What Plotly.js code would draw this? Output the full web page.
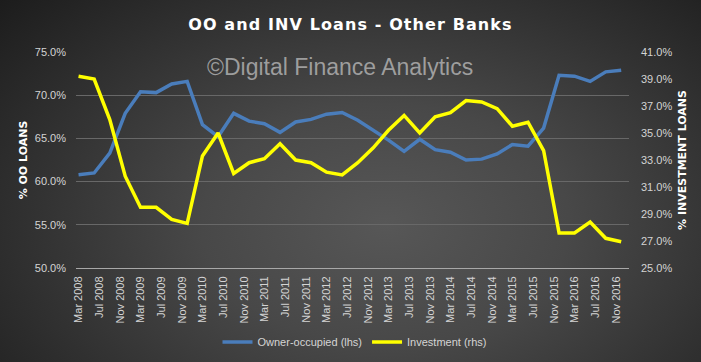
<!DOCTYPE html>
<html>
<head>
<meta charset="utf-8">
<script src="https://cdn.plot.ly/plotly-3.0.1.min.js"></script>
<style>
  html, body { margin:0; padding:0; }
  body { width:701px; height:362px; overflow:hidden;
    background: radial-gradient(ellipse 75% 95% at 55% 62%, #575757 0%, #484848 35%, #333333 65%, #1b1b1b 100%); }
  #chart { width:701px; height:362px; }
  .gtitle { letter-spacing: 1.1px; }
</style>
</head>
<body>
<div id="chart"></div>
<script>
// Quarterly observations (Mar 2008 .. Dec 2016)
const quarters = [
  '2008-03-01','2008-06-01','2008-09-01','2008-12-01',
  '2009-03-01','2009-06-01','2009-09-01','2009-12-01',
  '2010-03-01','2010-06-01','2010-09-01','2010-12-01',
  '2011-03-01','2011-06-01','2011-09-01','2011-12-01',
  '2012-03-01','2012-06-01','2012-09-01','2012-12-01',
  '2013-03-01','2013-06-01','2013-09-01','2013-12-01',
  '2014-03-01','2014-06-01','2014-09-01','2014-12-01',
  '2015-03-01','2015-06-01','2015-09-01','2015-12-01',
  '2016-03-01','2016-06-01','2016-09-01','2016-12-01'
];
// % owner-occupied loans (left axis)
const ownerOccupied = [
  60.8, 61.0, 63.3, 67.9,
  70.4, 70.3, 71.3, 71.6,
  66.6, 65.2, 67.9, 67.0,
  66.7, 65.7, 66.9, 67.2,
  67.8, 68.0, 67.1, 66.0,
  64.8, 63.5, 64.9, 63.7,
  63.4, 62.5, 62.6, 63.2,
  64.3, 64.1, 66.2, 72.3,
  72.2, 71.6, 72.7, 72.9
];
// % investment loans (right axis)
const investment = [
  39.2, 39.0, 36.0, 31.8,
  29.5, 29.5, 28.6, 28.3,
  33.3, 35.0, 32.0, 32.8,
  33.1, 34.2, 33.0, 32.8,
  32.1, 31.9, 32.8, 33.9,
  35.2, 36.3, 35.0, 36.2,
  36.5, 37.4, 37.3, 36.8,
  35.5, 35.8, 33.7, 27.6,
  27.6, 28.4, 27.2, 26.95
];
// Axis tick dates and labels (every 4 months)
const tickDates = [
  '2008-03-01','2008-07-01','2008-11-01','2009-03-01','2009-07-01','2009-11-01',
  '2010-03-01','2010-07-01','2010-11-01','2011-03-01','2011-07-01','2011-11-01',
  '2012-03-01','2012-07-01','2012-11-01','2013-03-01','2013-07-01','2013-11-01',
  '2014-03-01','2014-07-01','2014-11-01','2015-03-01','2015-07-01','2015-11-01',
  '2016-03-01','2016-07-01','2016-11-01'
];
const tickLabels = [
  'Mar 2008','Jul 2008','Nov 2008','Mar 2009','Jul 2009','Nov 2009',
  'Mar 2010','Jul 2010','Nov 2010','Mar 2011','Jul 2011','Nov 2011',
  'Mar 2012','Jul 2012','Nov 2012','Mar 2013','Jul 2013','Nov 2013',
  'Mar 2014','Jul 2014','Nov 2014','Mar 2015','Jul 2015','Nov 2015',
  'Mar 2016','Jul 2016','Nov 2016'
];
const seriesNames = ['Owner-occupied (lhs)', 'Investment (rhs)'];

const tickFont = {family: 'Liberation Sans, Arial, sans-serif', size: 11, color: '#d4d4d4'};

const traces = [
  {x: quarters, y: ownerOccupied, name: seriesNames[0], type: 'scatter', mode: 'lines',
   line: {color: '#4a7dbb', width: 3.5}, yaxis: 'y'},
  {x: quarters, y: investment, name: seriesNames[1], type: 'scatter', mode: 'lines',
   line: {color: '#ffff00', width: 3.5}, yaxis: 'y2'}
];

const layout = {
  width: 701, height: 362,
  margin: {l: 76, r: 72, t: 52, b: 94},
  paper_bgcolor: 'rgba(0,0,0,0)',
  plot_bgcolor: 'rgba(0,0,0,0)',
  title: {text: 'OO and INV Loans - Other Banks', x: 0.5, xanchor: 'center',
          y: 1 - 24/362, yref: 'container', yanchor: 'middle',
          font: {family: 'DejaVu Sans, sans-serif', size: 16, color: '#ffffff', weight: 'bold'}},
  xaxis: {type: 'date', range: ['2008-02-15', '2017-01-16'], automargin: false,
          tickmode: 'array', tickvals: tickDates, ticktext: tickLabels, tickangle: -90,
          tickfont: tickFont, showgrid: false, showline: true, linecolor: '#a8a8a8', linewidth: 1,
          ticks: '', zeroline: false, fixedrange: true, ticklabelstandoff: 3},
  yaxis: {range: [50, 75], dtick: 5, tick0: 50, tickformat: '.1f', ticksuffix: '%', automargin: false,
          tickfont: tickFont, showgrid: true, gridcolor: '#686868', gridwidth: 1,
          zeroline: false, ticks: '', ticklabelstandoff: 9,
          title: {text: '% OO LOANS', standoff: 4,
                  font: {family: 'DejaVu Sans, sans-serif', size: 11, color: '#ffffff', weight: 'bold'}}},
  yaxis2: {range: [25, 41], dtick: 2, tick0: 25, tickformat: '.1f', ticksuffix: '%', automargin: false,
           overlaying: 'y', side: 'right', showgrid: false, zeroline: false, ticks: '',
           tickfont: tickFont, ticklabelstandoff: 11,
           title: {text: '% INVESTMENT LOANS', standoff: 6,
                   font: {family: 'DejaVu Sans, sans-serif', size: 11, color: '#ffffff', weight: 'bold'}}},
  showlegend: true,
  legend: {orientation: 'h', xref: 'container', yref: 'container',
           x: 355/701, xanchor: 'center', y: 1 - 342/362, yanchor: 'middle',
           font: {family: 'Liberation Sans, Arial, sans-serif', size: 11, color: '#d4d4d4'},
           bgcolor: 'rgba(0,0,0,0)', itemwidth: 30, tracegroupgap: 0},
  annotations: [
    {text: '©Digital Finance Analytics', xref: 'paper', yref: 'paper',
     x: 0.477, y: 0.93, xanchor: 'center', yanchor: 'middle', showarrow: false,
     font: {family: 'Liberation Sans, Arial, sans-serif', size: 23, color: 'rgba(190,190,190,0.75)'}}
  ]
};

Plotly.newPlot('chart', traces, layout, {displayModeBar: false, staticPlot: true});
</script>
</body>
</html>
